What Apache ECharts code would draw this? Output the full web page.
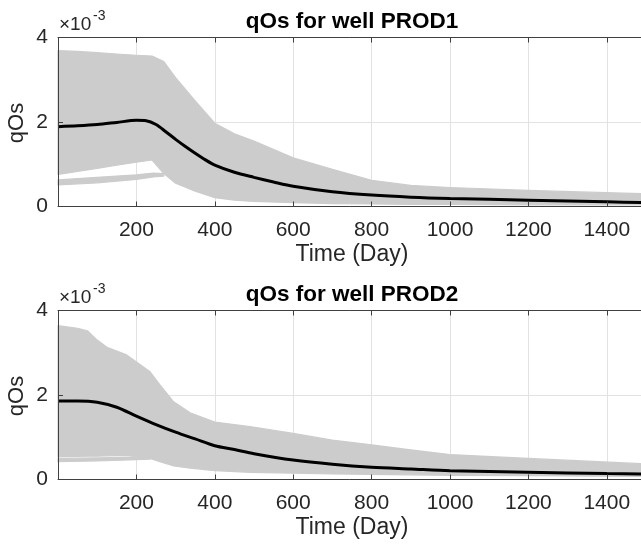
<!DOCTYPE html>
<html>
<head>
<meta charset="utf-8">
<script src="https://cdn.jsdelivr.net/npm/echarts@6/dist/echarts.min.js"></script>
<style>html,body{margin:0;padding:0;background:#fff}#c{width:641px;height:545px}</style>
</head>
<body>
<div id="c"></div>
<script>
// Values in units of 1e-3 (axis shows "×10^-3")
// ---------- PROD1 ----------
const bandDays1 = [0, 50, 100, 150, 200, 240, 270, 300, 350, 400, 450, 500, 600, 700, 800, 900, 1000, 1200, 1500];
const bandUpper1 = [3.69, 3.67, 3.64, 3.61, 3.58, 3.56, 3.43, 3.05, 2.50, 1.97, 1.72, 1.55, 1.15, 0.88, 0.62, 0.50, 0.45, 0.38, 0.30];
const bandLower1 = [0.76, 0.83, 0.90, 0.98, 1.05, 1.10, 0.78, 0.55, 0.36, 0.21, 0.15, 0.12, 0.09, 0.07, 0.06, 0.05, 0.05, 0.04, 0.04];
const lowDays1 = [0, 100, 200, 243, 270];
const lowUpper1 = [0.63, 0.69, 0.75, 0.79, 0.78];
const lowLower1 = [0.51, 0.56, 0.64, 0.70, 0.72];
const meanDays1 = [0, 50, 100, 150, 200, 225, 250, 275, 300, 325, 350, 375, 400, 450, 500, 550, 600, 700, 800, 900, 1000, 1200, 1400, 1500];
const mean1 = [1.89, 1.91, 1.94, 1.99, 2.04, 2.03, 1.94, 1.77, 1.59, 1.42, 1.26, 1.11, 0.98, 0.81, 0.69, 0.58, 0.48, 0.35, 0.27, 0.22, 0.19, 0.15, 0.11, 0.09];

// ---------- PROD2 ----------
const bandDays2 = [0, 50, 75, 100, 125, 175, 235, 260, 295, 337, 400, 490, 600, 700, 800, 900, 1000, 1200, 1500];
const bandUpper2 = [3.64, 3.58, 3.52, 3.30, 3.13, 2.95, 2.55, 2.24, 1.84, 1.58, 1.36, 1.25, 1.09, 0.93, 0.82, 0.70, 0.59, 0.50, 0.37];
const bandLower2 = [0.54, 0.545, 0.55, 0.55, 0.56, 0.57, 0.50, 0.42, 0.32, 0.27, 0.21, 0.17, 0.15, 0.13, 0.12, 0.11, 0.10, 0.09, 0.07];
const lowDays2 = [0, 100, 200, 235];
const lowUpper2 = [0.50, 0.51, 0.53, 0.50];
const lowLower2 = [0.42, 0.44, 0.47, 0.48];
const meanDays2 = [0, 50, 100, 150, 200, 250, 300, 350, 400, 450, 500, 600, 700, 800, 900, 1000, 1200, 1400, 1500];
const mean2 = [1.86, 1.86, 1.83, 1.71, 1.50, 1.30, 1.12, 0.96, 0.80, 0.71, 0.61, 0.46, 0.36, 0.29, 0.25, 0.21, 0.17, 0.14, 0.13];

const titles = ['qOs for well PROD1', 'qOs for well PROD2'];
const xTicks = [200, 400, 600, 800, 1000, 1200, 1400];
const yTicks = [0, 2, 4];

const FONT = 'Liberation Sans, Arial, Helvetica, sans-serif';
const AX = '#404040';
const TXT = '#262626';
const GRAY = '#cccccc';
const GRID = '#e2e2e2';

function band(xs, lo, hi, gi) {
  return {
    type: 'custom', xAxisIndex: gi * 3, yAxisIndex: gi * 2, silent: true, z: 2,
    data: [0],
    renderItem: function (params, api) {
      const pts = [];
      for (let i = 0; i < xs.length; i++) pts.push(api.coord([xs[i], hi[i]]));
      for (let i = xs.length - 1; i >= 0; i--) pts.push(api.coord([xs[i], lo[i]]));
      return { type: 'polygon', shape: { points: pts },
        style: { fill: GRAY, stroke: GRAY, lineWidth: 1.2, lineJoin: 'round' } };
    }
  };
}
function meanLine(xs, ys, gi) {
  return { type: 'line', xAxisIndex: gi * 3, yAxisIndex: gi * 2, symbol: 'none', silent: true, smooth: 0.3,
    data: xs.map((x, i) => [x, ys[i]]), lineStyle: { color: '#000', width: 3 }, z: 5 };
}

const grids = [
  { left: 58, top: 37.5, width: 588, height: 169, outerBoundsMode: 'none', containLabel: false },
  { left: 58, top: 310.5, width: 588, height: 169, outerBoundsMode: 'none', containLabel: false }
];
const xAxes = [], yAxes = [];
const tickStyle = { show: true, inside: true, length: 5, lineStyle: { color: AX } };
const lineStyleAx = { show: true, lineStyle: { color: AX, width: 1 } };
grids.forEach((g, gi) => {
  // grid-line layer (below data)
  xAxes.push({ type: 'value', gridIndex: gi, min: 0, max: 1500, interval: 200, position: 'bottom', z: 0,
    axisLine: { show: false }, axisTick: { show: false }, axisLabel: { show: false },
    splitLine: { show: true, lineStyle: { color: GRID, width: 1 } } });
  // frame + labels (above data)
  xAxes.push({ type: 'value', gridIndex: gi, min: 0, max: 1500, interval: 200, position: 'bottom', offset: 0, z: 10,
    axisLine: lineStyleAx, axisTick: tickStyle,
    axisLabel: { show: true, fontSize: 21, color: TXT, fontFamily: FONT, margin: 13,
      formatter: v => (xTicks.indexOf(v) >= 0 ? String(v) : ''), showMinLabel: false, showMaxLabel: false },
    splitLine: { show: false } });
  xAxes.push({ type: 'value', gridIndex: gi, min: 0, max: 1500, interval: 200, position: 'top', offset: 0, z: 10,
    axisLine: lineStyleAx, axisTick: tickStyle, axisLabel: { show: false }, splitLine: { show: false } });
  yAxes.push({ type: 'value', gridIndex: gi, min: 0, max: 4, interval: 2, position: 'left', offset: 0, z: 0,
    axisLine: { show: false }, axisTick: { show: false }, axisLabel: { show: false },
    splitLine: { show: true, lineStyle: { color: GRID, width: 1 } } });
  yAxes.push({ type: 'value', gridIndex: gi, min: 0, max: 4, interval: 2, position: 'left', offset: 0, z: 10,
    axisLine: lineStyleAx, axisTick: tickStyle,
    axisLabel: { fontSize: 21, color: TXT, fontFamily: FONT, margin: 10,
      formatter: v => (yTicks.indexOf(v) >= 0 ? String(v) : '') },
    splitLine: { show: false } });
});

const series = [
  band(bandDays1, bandLower1, bandUpper1, 0),
  band(lowDays1, lowLower1, lowUpper1, 0),
  meanLine(meanDays1, mean1, 0),
  band(bandDays2, bandLower2, bandUpper2, 1),
  band(lowDays2, lowLower2, lowUpper2, 1),
  meanLine(meanDays2, mean2, 1)
];

const graphic = [];
[0, 273].forEach((dy, gi) => {
  graphic.push({ type: 'text', x: 352, y: 21.5 + dy, z: 20, style: { text: titles[gi], fontSize: 22.5, fontWeight: 'bold',
    fontFamily: FONT, fill: '#000', align: 'center', verticalAlign: 'middle' } });
  graphic.push({ type: 'text', x: 59, y: 25 + dy, z: 20, style: { text: '×10', fontSize: 19,
    fontFamily: FONT, fill: TXT, align: 'left', verticalAlign: 'middle' } });
  graphic.push({ type: 'text', x: 93, y: 16 + dy, z: 20, style: { text: '-3', fontSize: 14,
    fontFamily: FONT, fill: TXT, align: 'left', verticalAlign: 'middle' } });
  graphic.push({ type: 'text', x: 17, y: 123 + dy, z: 20, rotation: Math.PI / 2, style: { text: 'qOs', fontSize: 22,
    fontFamily: FONT, fill: TXT, align: 'center', verticalAlign: 'middle' } });
  graphic.push({ type: 'text', x: 352, y: 255 + dy, z: 20, style: { text: 'Time (Day)', fontSize: 23,
    fontFamily: FONT, fill: TXT, align: 'center', verticalAlign: 'middle' } });
});

const chart = echarts.init(document.getElementById('c'), null, { renderer: 'canvas' });
chart.setOption({
  animation: false,
  backgroundColor: '#fff',
  grid: grids,
  xAxis: xAxes,
  yAxis: yAxes,
  series: series,
  graphic: graphic
});
</script>
</body>
</html>
